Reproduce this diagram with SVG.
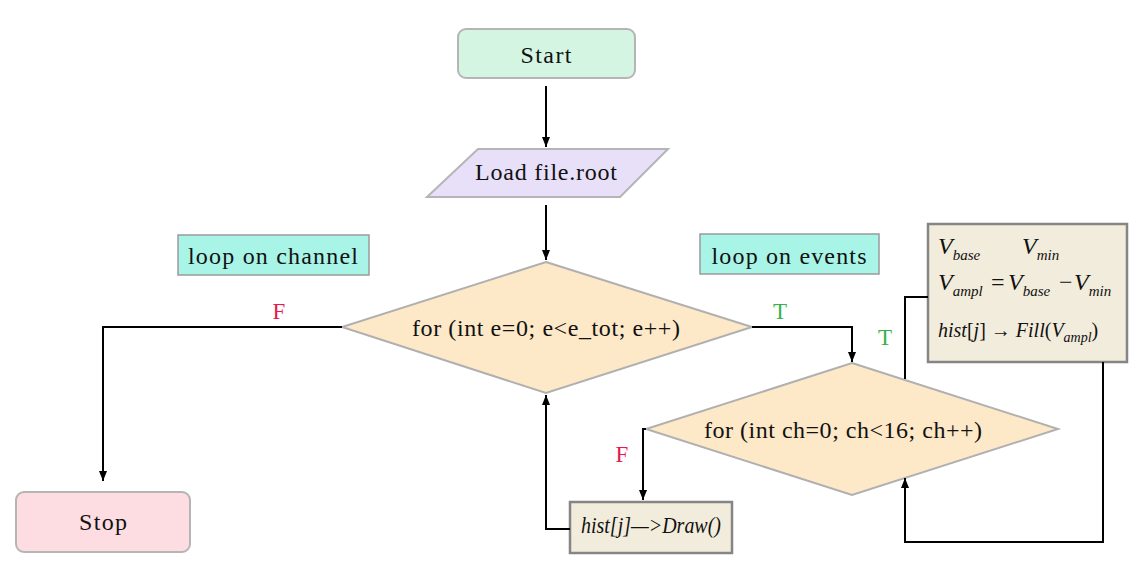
<svg xmlns="http://www.w3.org/2000/svg" width="1134" height="570" viewBox="0 0 1134 570">
<defs>
<marker id="arr" viewBox="0 0 10 8" refX="10" refY="4" markerWidth="10" markerHeight="8" markerUnits="userSpaceOnUse" orient="auto">
<path d="M0,0 L10,4 L0,8 z" fill="#000"/>
</marker>
<style>
.t{font-family:"Liberation Serif","Times New Roman",serif;font-size:24px;fill:#111;text-anchor:middle}
.m{font-family:"Liberation Serif","Times New Roman",serif;fill:#111}
.i{font-style:italic}
.lbl{font-family:"Liberation Serif","Times New Roman",serif;font-size:23px;text-anchor:middle}
.F{fill:#e8194b}
.T{fill:#33b24a}
.term{stroke:#b5b5b5;stroke-width:2}
.dia{fill:#fde8c8;stroke:#b0b0b0;stroke-width:2}
.note{fill:#a8f5e8;stroke:#9a9a9a;stroke-width:1.5}
.proc{fill:#f2ecdc;stroke:#858585;stroke-width:2.5}
.c{fill:none;stroke:#000;stroke-width:2}
</style>
</defs>
<rect width="1134" height="570" fill="#fff"/>
<g id="start">
<rect class="term" x="458" y="29" width="177" height="49" rx="8" fill="#d5f5e3"/>
<text class="t" x="546" y="63" textLength="51" lengthAdjust="spacing">Start</text>
</g>
<g id="load">
<polygon points="478,149 668,149 620,197 427,197" fill="#e8e0f8" stroke="#b5b5b5" stroke-width="2"/>
<text class="t" x="546" y="180" textLength="142" lengthAdjust="spacing">Load file.root</text>
</g>
<g id="loop-channel">
<rect class="note" x="178" y="235" width="191" height="40"/>
<text class="t" x="273" y="264" textLength="170" lengthAdjust="spacing">loop on channel</text>
</g>
<g id="loop-events">
<rect class="note" x="700" y="234" width="179" height="40"/>
<text class="t" x="789" y="264" textLength="155" lengthAdjust="spacing">loop on events</text>
</g>
<g id="for-e">
<polygon class="dia" points="546,262 752,327 546,393 342,327"/>
<text class="t" x="546" y="336" textLength="268" lengthAdjust="spacing">for (int e=0; e&lt;e_tot; e++)</text>
</g>
<g id="for-ch">
<polygon class="dia" points="852,363 1058,429 852,495 646,429"/>
<text class="t" x="843" y="438" textLength="278" lengthAdjust="spacing">for (int ch=0; ch&lt;16; ch++)</text>
</g>
<g id="stop">
<rect class="term" x="16" y="492" width="174" height="60" rx="8" fill="#fddde2"/>
<text class="t" x="103" y="530" textLength="48" lengthAdjust="spacing">Stop</text>
</g>
<g id="draw">
<rect class="proc" x="570" y="502" width="162" height="51"/>
<text class="t i" x="651" y="533" font-size="17" textLength="140" lengthAdjust="spacingAndGlyphs">hist[j]—&gt;Draw()</text>
</g>
<g id="compute">
<rect class="proc" x="928" y="224" width="199" height="138"/>
<text class="m i" x="938" y="254" font-size="24">V<tspan font-size="15" dy="6">base</tspan></text>
<text class="m i" x="1022" y="254" font-size="24">V<tspan font-size="15" dy="6">min</tspan></text>
<text class="m i" x="938" y="290" font-size="24">V<tspan font-size="15" dy="6">ampl</tspan></text>
<text class="m" x="991" y="290" font-size="24">=</text>
<text class="m i" x="1008" y="290" font-size="24">V<tspan font-size="15" dy="6">base</tspan></text>
<text class="m" x="1059" y="290" font-size="24">−</text>
<text class="m i" x="1074" y="290" font-size="24">V<tspan font-size="15" dy="6">min</tspan></text>
<text class="m" x="938" y="337" font-size="20"><tspan class="i">hist</tspan>[<tspan class="i">j</tspan>] → <tspan class="i">Fill</tspan>(<tspan class="i">V</tspan><tspan class="i" font-size="14" dy="5">ampl</tspan><tspan dy="-5">)</tspan></text>
</g>
<g id="connectors">
<path class="c" d="M546 86 V147" marker-end="url(#arr)"/>
<path class="c" d="M546 205 V260" marker-end="url(#arr)"/>
<path class="c" d="M342 327 H103 V481" marker-end="url(#arr)"/>
<path class="c" d="M752 327 H852 V362" marker-end="url(#arr)"/>
<path class="c" d="M905 379 V297 H928"/>
<path class="c" d="M1103 362 V542 H905 V478" marker-end="url(#arr)"/>
<path class="c" d="M646 429 H643 V500" marker-end="url(#arr)"/>
<path class="c" d="M570 529 H546 V395" marker-end="url(#arr)"/>
<text class="lbl F" x="279" y="319">F</text>
<text class="lbl T" x="780" y="319">T</text>
<text class="lbl T" x="885" y="345">T</text>
<text class="lbl F" x="622" y="462">F</text>
</g>
</svg>
